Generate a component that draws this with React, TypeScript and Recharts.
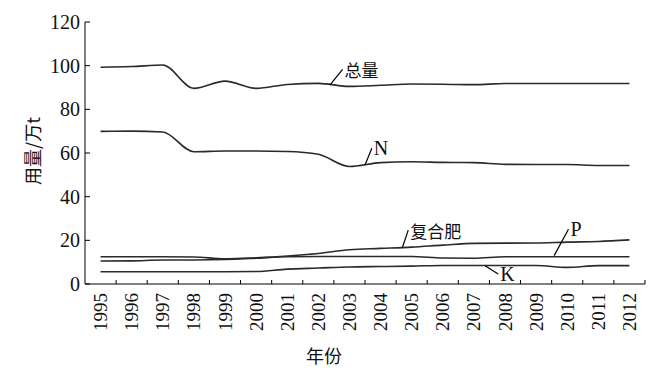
import { LineChart, Line, XAxis, YAxis, ReferenceLine, ReferenceDot } from 'recharts';

const years = [1995, 1996, 1997, 1998, 1999, 2000, 2001, 2002, 2003, 2004, 2005, 2006, 2007, 2008, 2009, 2010, 2011, 2012];
const total = [99.3, 99.6, 100.3, 89.6, 92.9, 89.6, 91.4, 91.9, 90.5, 91.0, 91.6, 91.5, 91.3, 91.8, 91.8, 91.8, 91.8, 91.8];
const nitrogen = [69.9, 70.0, 69.6, 60.6, 60.9, 60.9, 60.7, 59.4, 53.8, 55.6, 56.0, 55.7, 55.6, 54.8, 54.7, 54.7, 54.3, 54.3];
const compound = [12.5, 12.5, 12.5, 12.4, 11.5, 12.0, 12.8, 14.0, 15.7, 16.3, 16.9, 17.8, 18.6, 18.7, 18.8, 19.2, 19.5, 20.2];
const phosphate = [10.5, 10.6, 11.0, 11.0, 11.2, 11.8, 12.5, 12.6, 12.6, 12.6, 12.6, 11.9, 11.8, 12.5, 12.5, 12.5, 12.5, 12.5];
const potash = [5.6, 5.6, 5.6, 5.6, 5.6, 5.7, 6.8, 7.3, 7.8, 8.0, 8.2, 8.5, 8.5, 8.5, 8.5, 7.6, 8.4, 8.4];
const yTicks = [0, 20, 40, 60, 80, 100, 120];

// annotation labels: [text, leader start x, y, leader end x, y]
const notes: [string, number, number, number, number][] = [
  ['总量', 2002.37, 91.1, 2002.78, 98.3],
  ['N', 2003.5, 54.5, 2003.72, 62.2],
  ['复合肥', 2004.7, 16.6, 2004.89, 24.7],
  ['P', 2009.58, 13.0, 2010.04, 25.1],
  ['K', 2007.36, 8.4, 2007.78, 4.6],
];

const data = years.map((year, i) => ({
  year,
  total: total[i],
  nitrogen: nitrogen[i],
  compound: compound[i],
  phosphate: phosphate[i],
  potash: potash[i],
}));

const serif = '"Liberation Serif", "DejaVu Serif", serif';
const cjk = '"Noto Sans CJK SC", sans-serif';
const lineColor = '#2a2a2a';
const halfBand = 15.55;

const XTick = (props: any) => {
  const { x, y, payload } = props;
  return (
    <g>
      <line x1={x + halfBand} y1={y} x2={x + halfBand} y2={y - 4} stroke="#000" strokeWidth={1} />
      <text
        x={x}
        y={y + 9}
        transform={`rotate(-90, ${x}, ${y + 9})`}
        textAnchor="end"
        dominantBaseline="central"
        style={{ fontFamily: serif, fontSize: 19 }}
        fill="#111"
      >
        {payload.value}
      </text>
    </g>
  );
};

const YTick = (props: any) => {
  const { x, y, payload } = props;
  return (
    <g>
      <line x1={x + 5} y1={y} x2={x + 10} y2={y} stroke="#000" strokeWidth={1} />
      <text x={x} y={y} textAnchor="end" dominantBaseline="central" style={{ fontFamily: serif, fontSize: 20 }} fill="#111">
        {payload.value}
      </text>
    </g>
  );
};

export default function App() {
  return (
    <div style={{ position: 'absolute', left: 0, top: 0, width: 657, height: 373, background: '#fff' }}>
      <LineChart width={657} height={373} data={data} margin={{ top: 22, right: 12, left: 84, bottom: 88 }}>
        <XAxis
          dataKey="year"
          type="number"
          domain={[1994.5, 2012.5]}
          allowDataOverflow
          ticks={years}
          interval={0}
          height={1}
          tickSize={0}
          tickMargin={0}
          stroke="#000"
          tick={<XTick />}
        />
        <YAxis
          type="number"
          domain={[0, 120]}
          allowDataOverflow
          ticks={yTicks}
          width={1}
          tickSize={0}
          tickMargin={5}
          stroke="#000"
          tick={<YTick />}
        />
        <Line type="monotone" dataKey="total" stroke={lineColor} strokeWidth={1.6} dot={false} isAnimationActive={false} />
        <Line type="monotone" dataKey="nitrogen" stroke={lineColor} strokeWidth={1.6} dot={false} isAnimationActive={false} />
        <Line type="monotone" dataKey="compound" stroke={lineColor} strokeWidth={1.6} dot={false} isAnimationActive={false} />
        <Line type="monotone" dataKey="phosphate" stroke={lineColor} strokeWidth={1.6} dot={false} isAnimationActive={false} />
        <Line type="monotone" dataKey="potash" stroke={lineColor} strokeWidth={1.6} dot={false} isAnimationActive={false} />
        {notes.map(([text, x1, y1, x2, y2]) => (
          <ReferenceLine
            key={'l' + text}
            segment={[{ x: x1, y: y1 }, { x: x2, y: y2 }]}
            stroke="#000"
            strokeWidth={1.2}
            ifOverflow="visible"
          />
        ))}
        {notes.map(([text, , , x2, y2]) => (
          <ReferenceDot
            key={'t' + text}
            x={x2}
            y={y2}
            r={0}
            ifOverflow="visible"
            shape={(p: any) => (
              <text
                x={p.cx + 2}
                y={p.cy}
                textAnchor="start"
                dominantBaseline="central"
                style={{
                  fontFamily: /[A-Z]/.test(text) ? serif : cjk,
                  fontSize: /[A-Z]/.test(text) ? 20 : 17,
                }}
                fill="#111"
              >
                {text}
              </text>
            )}
          />
        ))}
      </LineChart>
      <div
        style={{
          position: 'absolute',
          left: 32,
          top: 151,
          transform: 'translate(-50%, -50%) rotate(-90deg)',
          fontFamily: cjk,
          fontSize: 18,
          whiteSpace: 'nowrap',
          color: '#111',
        }}
      >
        用量/万t
      </div>
      <div
        style={{
          position: 'absolute',
          left: 324,
          top: 355,
          transform: 'translate(-50%, -50%)',
          fontFamily: cjk,
          fontSize: 18,
          whiteSpace: 'nowrap',
          color: '#111',
        }}
      >
        年份
      </div>
    </div>
  );
}
